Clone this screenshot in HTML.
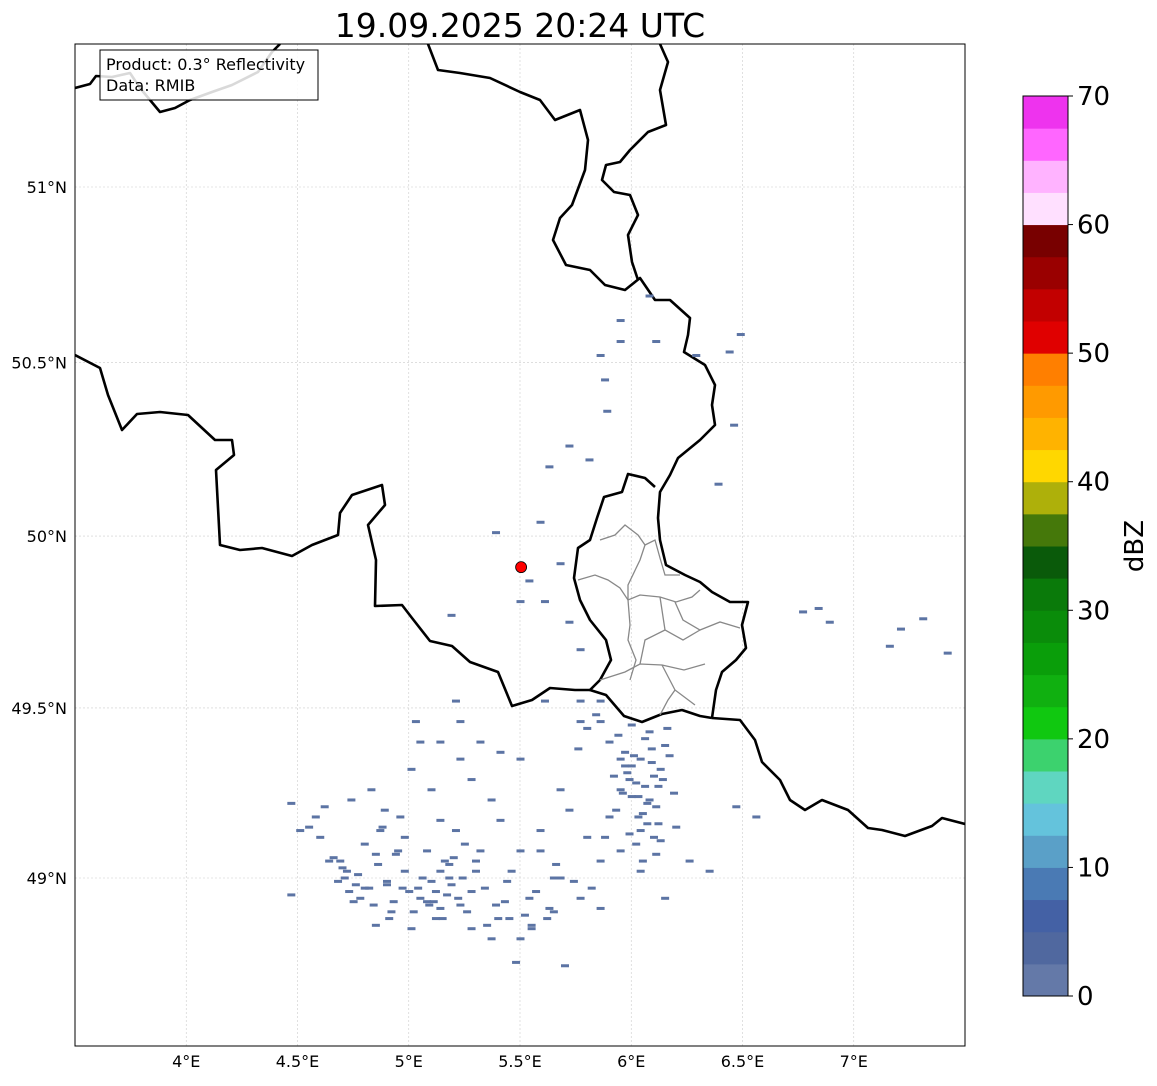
<!DOCTYPE html>
<html><head><meta charset="utf-8"><style>
body{margin:0;background:#fff;width:1157px;height:1081px;overflow:hidden;font-family:"Liberation Sans","DejaVu Sans",sans-serif}
svg text{font-family:"DejaVu Sans","Liberation Sans",sans-serif}
</style></head><body>
<svg id="chart" width="1157" height="1081" viewBox="0 0 1157 1081" xmlns="http://www.w3.org/2000/svg">
<text x="520" y="37" font-size="33" text-anchor="middle" fill="#000">19.09.2025 20:24 UTC</text>
<defs><clipPath id="mapclip"><rect x="75" y="44" width="890" height="1002"/></clipPath></defs>
<g id="grid"></g>
<g clip-path="url(#mapclip)">
<g id="borders" fill="none" stroke="#000" stroke-width="2.6" stroke-linejoin="round">
<polyline points="75,88 90,84 96,76 112,77 130,73 140,88 160,112 175,108 190,100 212,92 232,85 258,72 272,52 280,44"/>
<polyline points="428,44 438,70 460,73 490,78 520,92 540,100 555,120 580,110 588,140 585,170 572,205 560,218 553,240 566,265 590,270 605,285 625,290 640,278 655,300 670,300 690,318 688,335 684,352 705,365 715,385 712,405 715,425 700,440 678,458 670,475 660,492 658,518 660,540 666,565 685,575 700,582 712,592 730,602 748,602 742,625 746,648 736,660 722,672 716,690 712,718"/>
<polyline points="660,44 668,62 660,90 666,125 648,132 630,150 620,162 606,165 602,180 614,192 630,195 638,215 628,235 632,262 638,280"/>
<polyline points="655,487 645,478 628,474 622,492 604,497 597,518 590,540 578,548 574,578 580,600 590,620 606,640 611,660 600,680 590,690 606,695 624,716 642,722 662,714 682,710 700,716 712,718"/>
<polyline points="75,355 100,368 108,395 122,430 137,414 160,412 188,415 215,440 232,440 234,455 216,470 220,545 240,550 262,548 292,556 312,545 338,535 340,513 352,495 382,485 385,505 368,525 376,560 375,606 402,605 412,618 430,641 452,646 470,662 498,672 512,706 532,700 550,688 575,690 590,690"/>
<polyline points="712,718 740,720 755,740 762,762 780,780 790,800 805,810 822,800 848,810 868,828 882,830 905,836 932,826 942,818 965,824"/>
</g>
<g id="regions" fill="none" stroke="#888" stroke-width="1.3">
<polyline points="600,540 615,535 625,525 638,535 645,545 640,560 628,585 628,600"/>
<polyline points="645,545 655,540 660,558 665,575 680,575"/>
<polyline points="578,580 595,575 608,580 620,588 628,600 640,595 660,597 676,602 692,597 700,590"/>
<polyline points="628,600 630,625 628,640 636,660 630,680"/>
<polyline points="600,680 625,672 640,664 662,665 684,670 705,664"/>
<polyline points="675,602 683,620 700,630 720,622 740,628"/>
<polyline points="660,597 665,630 683,640 700,630"/>
<polyline points="640,664 645,640 665,630"/>
<polyline points="662,665 675,690 695,705"/>
<polyline points="660,715 668,700 675,690"/>
</g>
<g id="echoes"></g>
<g id="site"></g>
</g>
<rect x="75" y="44" width="890" height="1002" fill="none" stroke="#000" stroke-width="1"/>
<g>
<rect x="100" y="50" width="218" height="50" fill="#fff" fill-opacity="0.85" stroke="#000" stroke-width="1"/>
<text x="106" y="70" font-size="16">Product: 0.3° Reflectivity</text>
<text x="106" y="91" font-size="16">Data: RMIB</text>
</g>
<g id="xticks"></g>
<g id="yticks"></g>
<g id="cbar"></g>
<text transform="translate(1143,546) rotate(-90)" font-size="26" text-anchor="middle">dBZ</text>
</svg>
<script>
const lonTicks=[4,4.5,5,5.5,6,6.5,7];
const lonLabels=["4°E","4.5°E","5°E","5.5°E","6°E","6.5°E","7°E"];
const latTicks=[49,49.5,50,50.5,51];
const latLabels=["49°N","49.5°N","50°N","50.5°N","51°N"];
const cbarTicks=[0,10,20,30,40,50,60,70];
const cbarColors=["#6479a8","#50689f","#4461a5","#4a7ab4","#5aa0c8","#64c3dc","#5fd6c0","#3cd26e","#10c810","#10b010","#0a9e0a","#0a8c0a","#0a7a0a","#0a5a0a","#45780a","#aeb00a","#ffd700","#ffb300","#ff9a00","#ff7f00","#e00000","#c20000","#9a0000","#780000","#ffe0ff","#ffb3ff","#ff66ff","#ee33ee"];
const echoLon=[4.47,4.51,4.47,4.62,4.69,4.71,4.76,4.78,4.85,4.74,4.83,4.87,4.94,4.98,5.01,5.05,5.10,5.14,5.19,5.23,5.28,5.37,5.50,5.48,5.70,5.01,5.10,5.05,5.14,5.03,5.23,5.28,5.37,5.41,5.32,5.46,5.59,5.54,5.68,5.77,5.86,5.95,6.04,6.13,6.26,6.35,6.15,6.08,5.99,6.04,6.13,5.95,5.90,5.86,6.08,6.15,5.77,5.68,5.72,5.59,5.50,5.41,5.32,5.23,6.47,6.56,4.89,4.96,4.80,4.64,5.14,5.21,5.50,5.14,5.28,5.39,5.63,5.86,6.04,5.77,5.86,5.61,5.21,5.86,5.95,5.88,5.95,6.11,6.29,6.44,6.49,5.89,6.39,6.08,6.46,5.63,5.72,5.81,6.77,6.84,6.89,7.21,7.31,7.16,7.42,5.54,5.61,5.50,5.68,5.59,5.39,5.72,5.77,5.19,4.90,4.92,5.00,5.08,5.12,5.17,5.25,5.30,5.45,5.55,5.65,5.80,5.90,6.00,6.10,6.20,4.60,4.66,4.72,4.80,4.88,4.95,5.95,6.00,6.05,6.10,5.97,6.02,6.07,5.92,6.12,
4.70,4.73,4.77,4.82,4.86,4.90,4.93,4.97,5.02,5.06,5.09,5.12,5.15,5.18,5.22,5.26,4.68,4.75,4.84,4.91,5.04,5.11,5.16,5.20,5.24,5.30,5.34,5.40,5.44,5.52,5.57,5.62,5.66,5.74,5.82,5.88,5.93,5.96,5.98,6.01,6.03,6.06,6.09,6.11,6.14,6.17,6.19,5.94,5.97,6.00,6.03,6.06,6.09,6.12,6.16,6.02,6.07,6.11,5.99,6.05,5.84,5.80,5.76,4.58,4.55,4.85,4.98,5.08,5.18,5.35,5.43,5.55,5.65];
const echoLat=[49.22,49.14,48.95,49.21,49.05,49.00,48.98,48.94,48.86,49.23,49.26,49.14,49.07,49.02,48.85,48.94,48.99,49.02,48.98,48.92,48.85,48.82,48.82,48.75,48.74,49.32,49.26,49.40,49.40,49.46,49.35,49.29,49.23,49.17,49.08,49.02,49.08,48.94,49.00,48.94,49.05,49.08,49.14,49.11,49.05,49.02,48.94,49.23,49.29,49.35,49.32,49.35,49.40,49.46,49.43,49.39,49.46,49.26,49.20,49.14,49.35,49.37,49.40,49.46,49.21,49.18,49.20,49.18,49.10,49.05,49.17,49.14,49.08,48.91,48.96,48.92,48.91,48.91,49.02,49.52,49.52,49.52,49.52,50.52,50.62,50.45,50.56,50.56,50.52,50.53,50.58,50.36,50.15,50.69,50.32,50.20,50.26,50.22,49.78,49.79,49.75,49.73,49.76,49.68,49.66,49.87,49.81,49.81,49.92,50.04,50.01,49.75,49.67,49.77,48.98,48.90,48.96,48.93,48.88,48.95,49.10,49.05,48.88,48.86,49.00,49.12,49.18,49.24,49.30,49.15,49.12,49.06,49.02,48.97,49.15,49.08,49.26,49.33,49.19,49.12,49.37,49.28,49.22,49.30,49.16,
49.03,48.96,49.01,48.97,49.04,48.99,48.93,48.97,48.90,49.00,48.92,48.96,48.88,49.00,48.94,48.90,48.99,48.93,48.92,48.88,48.97,48.93,49.05,49.06,49.00,49.02,48.97,48.88,48.99,48.89,48.96,48.88,49.04,48.99,48.97,49.12,49.20,49.25,49.31,49.36,49.18,49.27,49.38,49.21,49.29,49.36,49.25,49.42,49.33,49.45,49.24,49.41,49.34,49.27,49.44,49.10,49.16,49.07,49.13,49.05,49.48,49.44,49.38,49.18,49.15,49.07,49.12,49.08,49.04,48.86,48.93,48.85,48.90];
const siteLon=5.505, siteLat=49.91;

const NS='http://www.w3.org/2000/svg';
const X0=75,X1=965,Y0=44,Y1=1046,LON0=3.5,LON1=7.5;
function merc(l){const r=l*Math.PI/180;return Math.log(Math.tan(Math.PI/4+r/2));}
const K=(878-187)/(merc(51)-merc(49));
function xs(lon){return X0+(lon-LON0)/(LON1-LON0)*(X1-X0);}
function ys(lat){return 878-(merc(lat)-merc(49))*K;}
function mk(tag,attrs,parent){const e=document.createElementNS(NS,tag);for(const k in attrs)e.setAttribute(k,attrs[k]);parent.appendChild(e);return e;}

const grid=document.getElementById('grid');
const xt=document.getElementById('xticks');
lonTicks.forEach((v,i)=>{
  const l=mk('line',{x1:xs(v),x2:xs(v),y1:Y0,y2:Y1,stroke:'#ccc','stroke-width':0.6,'stroke-dasharray':'2,2'},grid);
  
  
  const t=mk('text',{x:xs(v),y:1067,'font-size':16,'text-anchor':'middle'},xt);
  t.textContent=lonLabels[i];
  
  
});
const yt=document.getElementById('yticks');
latTicks.forEach((v,i)=>{
  const l=mk('line',{x1:X0,x2:X1,y1:ys(v),y2:ys(v),stroke:'#ccc','stroke-width':0.6,'stroke-dasharray':'2,2'},grid);
  
  
  const t=mk('text',{x:67,y:ys(v)+6,'font-size':16,'text-anchor':'end'},yt);
  t.textContent=latLabels[i];
  
  
});
const ech=document.getElementById('echoes');
echoLon.forEach((lon,i)=>{
  const r=mk('rect',{x:xs(lon)-3.5,y:ys(echoLat[i])-1.5,width:8,height:3,fill:'#5c74a4'},ech);
  
  
});
const site=mk('circle',{cx:xs(siteLon),cy:ys(siteLat),r:5.5,fill:'#f00',stroke:'#000','stroke-width':0.8},document.getElementById('site'));



const cb=document.getElementById('cbar');
const CX=1023,CW=45,CT=96,CB=996,VMAX=70;
function cy(v){return CB-v/VMAX*(CB-CT);}
const step=VMAX/cbarColors.length;
cbarColors.forEach((c,i)=>{
  const r=mk('rect',{x:CX,y:cy((i+1)*step),width:CW,height:cy(i*step)-cy((i+1)*step)+0.5,fill:c},cb);
  
  
});
mk('rect',{x:CX,y:CT,width:CW,height:CB-CT,fill:'none',stroke:'#000','stroke-width':1},cb);
cbarTicks.forEach(v=>{
  mk('line',{x1:CX+CW,x2:CX+CW+5,y1:cy(v),y2:cy(v),stroke:'#000'},cb);
  const t=mk('text',{x:CX+CW+9,y:cy(v)+9,'font-size':26},cb);
  t.textContent=v;
  
  
});
</script>
</body></html>
